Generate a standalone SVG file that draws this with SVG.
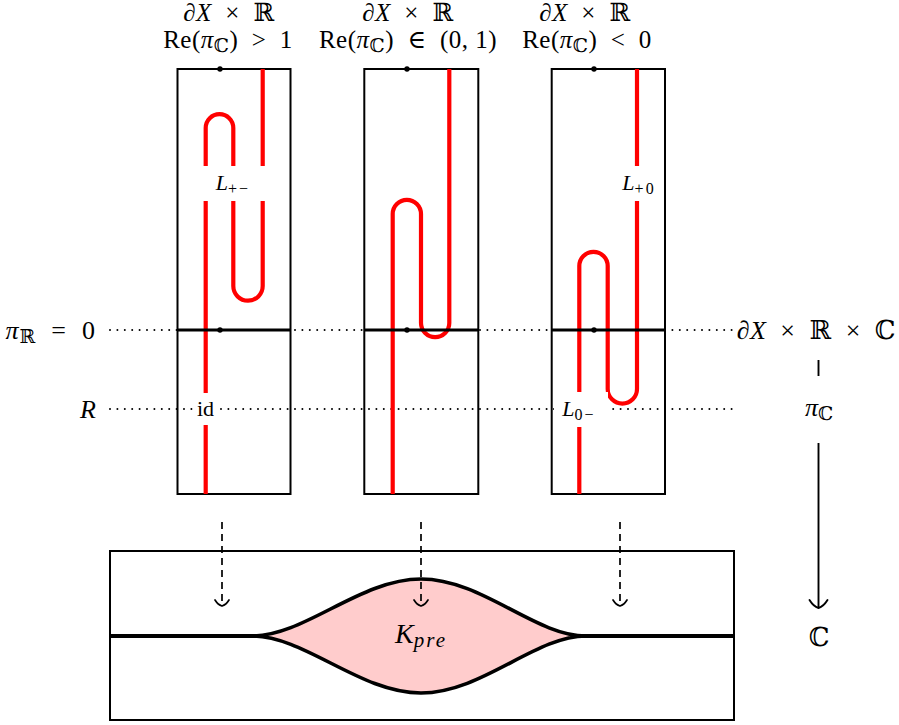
<svg xmlns="http://www.w3.org/2000/svg" width="899" height="725" viewBox="0 0 899 725">
<style>
text{font-family:"Liberation Serif","DejaVu Serif",serif;fill:#000}
.big{font-size:26px}
.top{font-size:25px;letter-spacing:0.5px}
.mid{font-size:22px}
.sub{font-size:19px}
.ssub{font-size:16px}
.i{font-style:italic}
.panel{fill:none;stroke:#000;stroke-width:2}
.red{fill:none;stroke:#ff0000;stroke-width:4.2}
.zero{stroke:#000;stroke-width:2.8}
.dot{fill:#000}
.dotted{stroke:#000;stroke-width:2;stroke-dasharray:0 7.4;stroke-linecap:round;fill:none}
.dashed{stroke:#000;stroke-width:1.7;stroke-dasharray:7 5;fill:none}
.head{fill:none;stroke:#000;stroke-width:1.7;stroke-linecap:round}
.bg{fill:#fff}
</style>
<defs>
<path id="tohead" d="M -7 -6 Q -4 -1.2 0 0 Q 4 -1.2 7 -6"/>
</defs>

<g id="guides">
<line class="dotted" x1="110" y1="330" x2="733" y2="330"/>
<line class="dotted" x1="110" y1="409" x2="733" y2="409"/>
</g>

<g id="panel1">
<rect class="panel" x="177.5" y="69" width="113" height="425"/>
<path class="red" d="M 205.7 494 L 205.7 128 A 13.8 13.8 0 0 1 233.3 128 L 233.3 286 A 14.7 14.7 0 0 0 262.7 286 L 262.7 69"/>
<line class="zero" x1="177.5" y1="330" x2="290.5" y2="330"/>
<circle class="dot" cx="220" cy="69" r="2.7"/>
<circle class="dot" cx="220" cy="330" r="2.7"/>
<rect class="bg" x="202" y="166" width="64" height="35"/>
<text class="mid" x="233" y="190" text-anchor="middle"><tspan class="i">L</tspan><tspan class="ssub" dy="4" letter-spacing="2">+−</tspan></text>
<rect class="bg" x="195" y="393" width="21" height="32"/>
<text class="mid" x="205.5" y="416" text-anchor="middle">id</text>
</g>

<g id="panel2">
<rect class="panel" x="364.3" y="69" width="114" height="425"/>
<path class="red" d="M 392.7 494 L 392.7 214 A 14.15 14.15 0 0 1 421 214 L 421 323 A 14.15 14.15 0 0 0 449.3 323 L 449.3 69"/>
<line class="zero" x1="364.3" y1="330" x2="478.3" y2="330"/>
<circle class="dot" cx="407" cy="69" r="2.7"/>
<circle class="dot" cx="407" cy="330" r="2.7"/>
</g>

<g id="panel3">
<rect class="panel" x="551.7" y="69" width="113.3" height="425"/>
<path class="red" d="M 579.3 494 L 579.3 266 A 14.2 14.2 0 0 1 607.7 266 L 607.7 389 A 14.65 14.65 0 0 0 637 389 L 637 69"/>
<line class="zero" x1="551.7" y1="330" x2="665" y2="330"/>
<circle class="dot" cx="594" cy="69" r="2.7"/>
<circle class="dot" cx="594" cy="330" r="2.7"/>
<rect class="bg" x="617" y="166" width="47" height="35"/>
<text class="mid" x="639" y="190" text-anchor="middle"><tspan class="i">L</tspan><tspan class="ssub" dy="4" letter-spacing="2">+0</tspan></text>
<rect class="bg" x="554" y="392" width="54" height="35"/>
<text class="mid" x="579" y="416" text-anchor="middle"><tspan class="i">L</tspan><tspan class="ssub" dy="4" letter-spacing="2">0−</tspan></text>
</g>

<g id="title1">
<text class="top" x="229" y="20.5" text-anchor="middle"><tspan class="i">∂X</tspan>&#160; × &#160;ℝ</text>
<text class="top" x="228" y="48" text-anchor="middle">Re(<tspan class="i">π</tspan><tspan class="sub" dy="4">ℂ</tspan><tspan dy="-4">)&#160; &gt; &#160;1</tspan></text>
</g>
<g id="title2">
<text class="top" x="408" y="20.5" text-anchor="middle"><tspan class="i">∂X</tspan>&#160; × &#160;ℝ</text>
<text class="top" x="408" y="48" text-anchor="middle">Re(<tspan class="i">π</tspan><tspan class="sub" dy="4">ℂ</tspan><tspan dy="-4">)&#160; ∈ &#160;(0,&#160;1)</tspan></text>
</g>
<g id="title3">
<text class="top" x="585" y="20.5" text-anchor="middle"><tspan class="i">∂X</tspan>&#160; × &#160;ℝ</text>
<text class="top" x="587" y="48" text-anchor="middle">Re(<tspan class="i">π</tspan><tspan class="sub" dy="4">ℂ</tspan><tspan dy="-4">)&#160; &lt; &#160;0</tspan></text>
</g>

<g id="label-piR">
<text class="big" x="96" y="339" text-anchor="end" letter-spacing="1"><tspan class="i">π</tspan><tspan class="sub" dy="4">ℝ</tspan><tspan dy="-4">&#160; = &#160;0</tspan></text>
</g>
<g id="label-R">
<text class="big i" x="96" y="418" text-anchor="end">R</text>
</g>
<g id="label-total">
<text class="big" x="896" y="339" text-anchor="end" letter-spacing="0.5"><tspan class="i">∂X</tspan>&#160; × &#160;ℝ&#160; × &#160;ℂ</text>
</g>
<g id="label-piC">
<text class="big" x="819" y="416" text-anchor="middle"><tspan class="i">π</tspan><tspan class="sub" dy="4">ℂ</tspan></text>
</g>
<g id="label-C">
<text class="big" x="819" y="646" text-anchor="middle">ℂ</text>
</g>

<g id="base">
<rect class="panel" x="110" y="551" width="624" height="169"/>
<line x1="110" y1="636" x2="256" y2="636" stroke="#000" stroke-width="4"/>
<line x1="582" y1="636" x2="734" y2="636" stroke="#000" stroke-width="4"/>
<path d="M 252 636 C 305 636 360 579 421 579 C 482 579 535 636 586 636 C 535 636 482 693 421 693 C 360 693 305 636 252 636 Z" fill="#ffcccc" stroke="#000" stroke-width="3.6"/>
<text x="421" y="643" text-anchor="middle" font-size="28"><tspan class="i">K</tspan><tspan class="i" font-size="21" dy="4" letter-spacing="2">pre</tspan></text>
</g>

<g id="connectors">
<line class="dashed" x1="222" y1="522" x2="222" y2="605"/>
<use href="#tohead" class="head" x="222" y="606"/>
<line class="dashed" x1="421" y1="522" x2="421" y2="605"/>
<use href="#tohead" class="head" x="421" y="606"/>
<line class="dashed" x1="620" y1="522" x2="620" y2="605"/>
<use href="#tohead" class="head" x="620" y="606"/>
<line x1="818.5" y1="360" x2="818.5" y2="376" stroke="#000" stroke-width="1.9"/>
<line x1="818.5" y1="443" x2="818.5" y2="607" stroke="#000" stroke-width="1.9"/>
<path d="M 809.5 600 Q 813.5 606.5 818.5 608 Q 823.5 606.5 827.5 600" fill="none" stroke="#000" stroke-width="1.9" stroke-linecap="round"/>
</g>
</svg>
